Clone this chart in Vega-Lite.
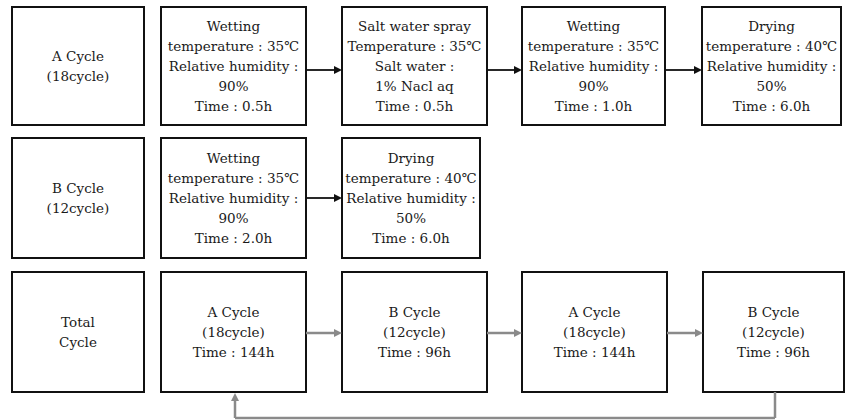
{
  "$schema": "https://vega.github.io/schema/vega-lite/v6.json",
  "width": 849,
  "height": 420,
  "padding": 0,
  "autosize": {"type": "fit", "contains": "padding"},
  "background": "white",
  "config": {"view": {"stroke": null}},
  "datasets": {
    "boxes": [
      {"x": 12, "x2": 144, "y": 7, "y2": 125, "label": "A Cycle\n(18cycle)"},
      {"x": 161, "x2": 306, "y": 7, "y2": 125, "label": "Wetting\ntemperature : 35℃\nRelative humidity :\n90%\nTime : 0.5h"},
      {"x": 342, "x2": 487, "y": 7, "y2": 125, "label": "Salt water spray\nTemperature : 35℃\nSalt water :\n1% Nacl aq\nTime : 0.5h"},
      {"x": 522, "x2": 665, "y": 7, "y2": 125, "label": "Wetting\ntemperature : 35℃\nRelative humidity :\n90%\nTime : 1.0h"},
      {"x": 702, "x2": 841, "y": 7, "y2": 125, "label": "Drying\ntemperature : 40℃\nRelative humidity :\n50%\nTime : 6.0h"},
      {"x": 12, "x2": 144, "y": 138, "y2": 258, "label": "B Cycle\n(12cycle)"},
      {"x": 161, "x2": 306, "y": 138, "y2": 258, "label": "Wetting\ntemperature : 35℃\nRelative humidity :\n90%\nTime : 2.0h"},
      {"x": 342, "x2": 480, "y": 138, "y2": 258, "label": "Drying\ntemperature : 40℃\nRelative humidity :\n50%\nTime : 6.0h"},
      {"x": 12, "x2": 144, "y": 272, "y2": 392, "label": "Total\nCycle"},
      {"x": 161, "x2": 306, "y": 272, "y2": 392, "label": "A Cycle\n(18cycle)\nTime : 144h"},
      {"x": 342, "x2": 487, "y": 272, "y2": 392, "label": "B Cycle\n(12cycle)\nTime : 96h"},
      {"x": 522, "x2": 667, "y": 272, "y2": 392, "label": "A Cycle\n(18cycle)\nTime : 144h"},
      {"x": 703, "x2": 844, "y": 272, "y2": 392, "label": "B Cycle\n(12cycle)\nTime : 96h"}
    ],
    "links": [
      {"x": 306, "x2": 334, "y": 70, "y2": 70, "kind": "step"},
      {"x": 487, "x2": 514, "y": 70, "y2": 70, "kind": "step"},
      {"x": 665, "x2": 694, "y": 70, "y2": 70, "kind": "step"},
      {"x": 306, "x2": 334, "y": 198, "y2": 198, "kind": "step"},
      {"x": 306, "x2": 334, "y": 333, "y2": 333, "kind": "total"},
      {"x": 487, "x2": 514, "y": 333, "y2": 333, "kind": "total"},
      {"x": 667, "x2": 695, "y": 333, "y2": 333, "kind": "total"},
      {"x": 775, "x2": 775, "y": 392, "y2": 418, "kind": "total"},
      {"x": 235, "x2": 775, "y": 418, "y2": 418, "kind": "total"},
      {"x": 235, "x2": 235, "y": 418, "y2": 400, "kind": "total"}
    ],
    "heads": [
      {"x": 342, "y": 70, "kind": "step", "dir": "right"},
      {"x": 522, "y": 70, "kind": "step", "dir": "right"},
      {"x": 702, "y": 70, "kind": "step", "dir": "right"},
      {"x": 342, "y": 198, "kind": "step", "dir": "right"},
      {"x": 342, "y": 333, "kind": "total", "dir": "right"},
      {"x": 522, "y": 333, "kind": "total", "dir": "right"},
      {"x": 703, "y": 333, "kind": "total", "dir": "right"},
      {"x": 235, "y": 393, "kind": "total", "dir": "up"}
    ]
  },
  "layer": [
    {
      "data": {"name": "boxes"},
      "mark": {"type": "rect", "fill": "white", "stroke": "#111111", "strokeWidth": 2},
      "encoding": {
        "x": {"field": "x", "type": "quantitative", "scale": {"domain": [0, 849], "nice": false, "zero": false}, "axis": null},
        "x2": {"field": "x2"},
        "y": {"field": "y", "type": "quantitative", "scale": {"domain": [0, 420], "nice": false, "zero": false, "reverse": true}, "axis": null},
        "y2": {"field": "y2"}
      }
    },
    {
      "data": {"name": "boxes"},
      "transform": [
        {"calculate": "(datum.x + datum.x2) / 2", "as": "cx"},
        {"calculate": "(datum.y + datum.y2) / 2 + 1 - (length(split(datum.label, '\\n')) - 1) * 10", "as": "cy"}
      ],
      "mark": {"type": "text", "font": "DejaVu Serif", "fontSize": 13.5, "lineHeight": 20, "lineBreak": "\n", "align": "center", "baseline": "middle", "color": "#1a1a1a"},
      "encoding": {
        "x": {"field": "cx", "type": "quantitative"},
        "y": {"field": "cy", "type": "quantitative"},
        "text": {"field": "label"}
      }
    },
    {
      "data": {"name": "links"},
      "mark": {"type": "rule"},
      "encoding": {
        "x": {"field": "x", "type": "quantitative"},
        "x2": {"field": "x2"},
        "y": {"field": "y", "type": "quantitative"},
        "y2": {"field": "y2"},
        "color": {"field": "kind", "type": "nominal", "scale": {"domain": ["step", "total"], "range": ["#111111", "#8a8a8a"]}, "legend": null},
        "strokeWidth": {"field": "kind", "type": "nominal", "scale": {"domain": ["step", "total"], "range": [1.8, 2.5]}, "legend": null}
      }
    },
    {
      "data": {"name": "heads"},
      "mark": {"type": "point", "filled": true, "opacity": 1, "size": 256},
      "encoding": {
        "x": {"field": "x", "type": "quantitative"},
        "y": {"field": "y", "type": "quantitative"},
        "shape": {"field": "dir", "type": "nominal", "scale": {"domain": ["right", "up"], "range": ["M-1,-0.5L0,0L-1,0.5Z", "M-0.5,1L0,0L0.5,1Z"]}, "legend": null},
        "color": {"field": "kind", "type": "nominal", "scale": {"domain": ["step", "total"], "range": ["#111111", "#8a8a8a"]}, "legend": null}
      }
    }
  ]
}
